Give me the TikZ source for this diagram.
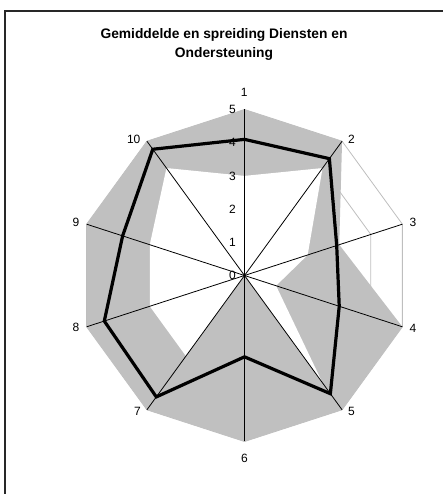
\documentclass[tikz,border=0pt]{standalone}
\usepackage{fontspec}
\setmainfont{Liberation Sans}
\definecolor{band}{RGB}{192,192,192}
\definecolor{gridc}{RGB}{190,190,190}
\definecolor{framec}{RGB}{40,40,40}
\tikzset{
  gridline/.style={draw=gridc, line width=0.8pt},
  axisline/.style={draw=black, line width=0.8pt},
  meanline/.style={draw=black, line width=3.2pt, line join=miter},
  catlabel/.style={inner sep=0pt, font=\fontsize{12}{13}\selectfont},
  ticklabel/.style={inner sep=0pt, anchor=east, font=\fontsize{12}{13}\selectfont},
}
\def\u{33.2}
\begin{document}
\begin{tikzpicture}[x=1pt,y=1pt]
\useasboundingbox (0,0) rectangle (443,494);
% frame (left and top edges visible)
\draw[framec, line width=1.3pt] (5,0) -- (5,483) -- (443,483);
% title
\node[align=center, font=\bfseries\fontsize{13.8}{19}\selectfont] (title) at (224,450)
  {Gemiddelde en spreiding Diensten en\\Ondersteuning};
\begin{scope}[shift={(244.5,218.5)}]
  \coordinate (c) at (0,0);
  % grid
  \foreach \r in {1,...,5}
    \draw[gridline] (90:{\r*\u}) \foreach \k in {1,...,9} { -- ({90-36*\k}:{\r*\u}) } -- cycle;
  % max band
  \fill[band] (90:{5*\u}) \foreach \v [count=\k] in {5,3,5,5,5,5,5,5,5} { -- ({90-36*\k}:{\v*\u}) } -- cycle;
  % min (white)
  \fill[white] (90:{3*\u}) \foreach \v [count=\k] in {4,2,1,4,0,3,3,3,4} { -- ({90-36*\k}:{\v*\u}) } -- cycle;
  % axes
  \foreach \k in {0,...,9}
    \draw[axisline] (c) -- ({90-36*\k}:{5*\u});
  % mean
  \draw[meanline] (90:{4.1*\u}) \foreach \v [count=\k] in {4.35,2.92,3.0,4.4,2.45,4.52,4.44,3.86,4.7} { -- ({90-36*\k}:{\v*\u}) } -- cycle;
\end{scope}
% tick labels
\foreach \t in {0,...,5}
  \node[ticklabel] (t\t) at (236,{218.5+\t*\u}) {\t};
% category labels
\node[catlabel] (l1) at (244.3,402) {1};
\node[catlabel] (l2) at (351.5,355) {2};
\node[catlabel] (l3) at (413,272) {3};
\node[catlabel] (l4) at (413,166) {4};
\node[catlabel] (l5) at (351.5,83) {5};
\node[catlabel] (l6) at (244.5,36) {6};
\node[catlabel] (l7) at (137.5,83) {7};
\node[catlabel] (l8) at (76,167) {8};
\node[catlabel] (l9) at (76,272) {9};
\node[catlabel] (l10) at (133.7,355) {10};
\end{tikzpicture}
\end{document}
